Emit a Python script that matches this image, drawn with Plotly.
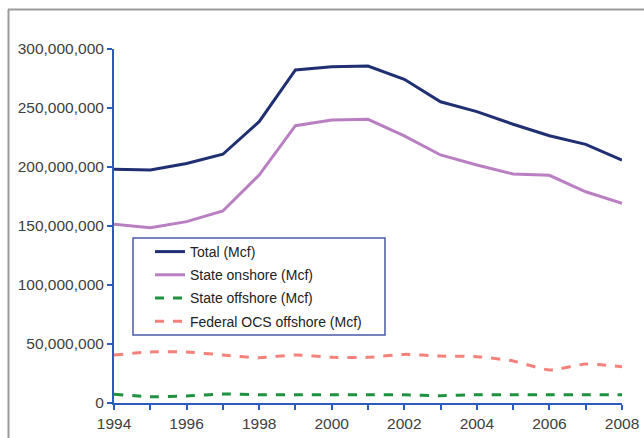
import plotly.graph_objects as go

years = list(range(1994, 2009))
total = [198.0, 197.5, 203.0, 210.8, 238.4, 282.2, 285.0, 285.6, 274.3, 255.3,
         246.9, 236.2, 226.5, 219.2, 205.9]
state_onshore = [151.4, 148.6, 153.7, 162.7, 193.2, 235.0, 239.8, 240.4, 226.3, 210.2,
                 201.7, 194.1, 193.0, 179.0, 169.2]
state_offshore = [7.4, 5.4, 5.9, 7.6, 7.0, 7.0, 7.0, 7.0, 7.0, 6.2,
                  7.0, 7.0, 7.0, 7.0, 7.0]
federal_ocs = [40.7, 43.2, 43.2, 40.7, 38.4, 40.7, 38.7, 38.7, 41.2, 39.8,
               39.3, 35.6, 28.0, 33.0, 30.8]

series = [
    ("Total (Mcf)", total, "#1f2f72", "solid", "linear"),
    ("State onshore (Mcf)", state_onshore, "#b97fc2", "solid", "linear"),
    ("State offshore (Mcf)", state_offshore, "#1f9240", "dash", "spline"),
    ("Federal OCS offshore (Mcf)", federal_ocs, "#f5827a", "dash", "spline"),
]

fig = go.Figure()
for i, (name, vals, color, dash, shape) in enumerate(series):
    fig.add_trace(go.Scatter(
        x=years, y=[v * 1e6 for v in vals], name=name, mode="lines",
        line=dict(color=color, width=3, dash=dash, shape=shape, smoothing=0.6),
        legendgroup=str(i),
    ))

axis_blue = "#2a5cc0"
tick_font = dict(family="Liberation Sans, Arial", size=15.5, color="#404040")

W, H = 644, 438
L, T, R, B = 114, 49, 22, 35
pw, ph = W - L - R, H - T - B


# screen pixel -> paper coords
def px(x):
    return (x - L) / pw


def py(y):
    return 1 - (y - T) / ph


fig.update_layout(
    width=W, height=H,
    margin=dict(l=L, r=R, t=T, b=B),
    paper_bgcolor="white", plot_bgcolor="white",
    font=dict(family="Liberation Sans, Arial", color="#333333"),
    legend=dict(
        x=px(150), y=py(236), xanchor="left", yanchor="top",
        borderwidth=0, bgcolor="rgba(0,0,0,0)",
        font=dict(size=14, color="#222222"),
        traceorder="grouped", tracegroupgap=2,
    ),
    xaxis=dict(
        range=[1994, 2008], tickvals=years, automargin=False,
        ticktext=[str(y) if y % 2 == 0 else "" for y in years],
        showgrid=False, zeroline=False, showline=True, linecolor=axis_blue,
        linewidth=2, ticks="outside", ticklen=5, tickcolor=axis_blue,
        tickwidth=1.5, tickfont=tick_font,
    ),
    yaxis=dict(
        range=[0, 300e6], dtick=50e6, tickformat=",d", automargin=False,
        showgrid=False, zeroline=False, showline=True, linecolor=axis_blue,
        linewidth=2, ticks="outside", ticklen=5, tickcolor=axis_blue,
        tickwidth=1.5, tickfont=tick_font,
    ),
)

# legend box
fig.add_shape(type="rect", xref="paper", yref="paper",
              x0=px(133), x1=px(385), y0=py(335), y1=py(238),
              line=dict(color="#4a5aaa", width=1.5), fillcolor="white", layer="below")

# outer frame (top and left edges visible)
fig.add_shape(type="line", xref="paper", yref="paper", x0=px(8.5), x1=px(8.5),
              y0=py(445), y1=py(9.5), line=dict(color="#9a9a9a", width=2))
fig.add_shape(type="line", xref="paper", yref="paper", x0=px(8), x1=px(650),
              y0=py(9.5), y1=py(9.5), line=dict(color="#9a9a9a", width=2))

# drop the default page margin so the figure sits at the window's corner
fig.write_html(
    "out.html",
    config={"displayModeBar": False},
    post_script="document.body.style.margin='0';document.body.style.overflow='hidden';",
)
